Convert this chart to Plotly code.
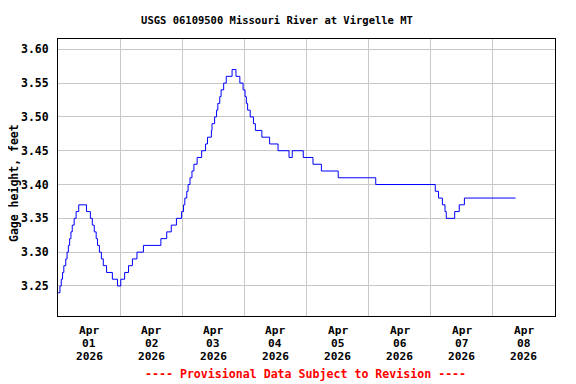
import plotly.graph_objects as go

# Change points of the gage-height record (step data, 0.01 ft resolution)
times = [
    "2026-04-01 00:00", "2026-04-01 00:45", "2026-04-01 01:15", "2026-04-01 01:45",
    "2026-04-01 02:15", "2026-04-01 03:00", "2026-04-01 03:30", "2026-04-01 04:00",
    "2026-04-01 04:30", "2026-04-01 05:00", "2026-04-01 05:30", "2026-04-01 06:15",
    "2026-04-01 07:00", "2026-04-01 08:00", "2026-04-01 11:00", "2026-04-01 12:30",
    "2026-04-01 13:15", "2026-04-01 14:00", "2026-04-01 14:45", "2026-04-01 15:15",
    "2026-04-01 16:00", "2026-04-01 16:45", "2026-04-01 17:30", "2026-04-01 18:45",
    "2026-04-01 21:00", "2026-04-01 23:00",
    "2026-04-02 00:15", "2026-04-02 01:45", "2026-04-02 03:15", "2026-04-02 04:45",
    "2026-04-02 06:30", "2026-04-02 09:00", "2026-04-02 15:45", "2026-04-02 18:00",
    "2026-04-02 19:45", "2026-04-02 21:45", "2026-04-02 23:45",
    "2026-04-03 00:30", "2026-04-03 01:00", "2026-04-03 01:45", "2026-04-03 02:15",
    "2026-04-03 03:00", "2026-04-03 03:45", "2026-04-03 04:30", "2026-04-03 05:45",
    "2026-04-03 07:30", "2026-04-03 09:00", "2026-04-03 09:45", "2026-04-03 11:15",
    "2026-04-03 11:30", "2026-04-03 12:30", "2026-04-03 13:15", "2026-04-03 13:45",
    "2026-04-03 14:30", "2026-04-03 15:00", "2026-04-03 16:00", "2026-04-03 17:00",
    "2026-04-03 19:15", "2026-04-03 20:45", "2026-04-03 22:15", "2026-04-03 23:30",
    "2026-04-04 00:15", "2026-04-04 00:45", "2026-04-04 01:15", "2026-04-04 02:15",
    "2026-04-04 03:30", "2026-04-04 04:15", "2026-04-04 06:45", "2026-04-04 09:45",
    "2026-04-04 13:00", "2026-04-04 17:15", "2026-04-04 18:30", "2026-04-04 22:45",
    "2026-04-05 02:30", "2026-04-05 05:45", "2026-04-05 12:15",
    "2026-04-06 02:45",
    "2026-04-07 01:45", "2026-04-07 03:00", "2026-04-07 04:30", "2026-04-07 05:30",
    "2026-04-07 06:00", "2026-04-07 09:15", "2026-04-07 11:00", "2026-04-07 13:00",
    "2026-04-08 08:45",
]
gage_height = [
    3.24, 3.25, 3.26, 3.27,
    3.28, 3.29, 3.30, 3.31,
    3.32, 3.33, 3.34, 3.35,
    3.36, 3.37, 3.36, 3.35,
    3.34, 3.33, 3.32, 3.31,
    3.30, 3.29, 3.28, 3.27,
    3.26, 3.25,
    3.26, 3.27, 3.28, 3.29,
    3.30, 3.31, 3.32, 3.33,
    3.34, 3.35, 3.36,
    3.37, 3.38, 3.39, 3.40,
    3.41, 3.42, 3.43, 3.44,
    3.45, 3.46, 3.47, 3.48,
    3.49, 3.50, 3.51, 3.52,
    3.53, 3.54, 3.55, 3.56,
    3.57, 3.56, 3.55, 3.54,
    3.53, 3.52, 3.51, 3.50,
    3.49, 3.48, 3.47, 3.46,
    3.45, 3.44, 3.45, 3.44,
    3.43, 3.42, 3.41,
    3.40,
    3.39, 3.38, 3.37, 3.36,
    3.35, 3.36, 3.37, 3.38,
    3.38,
]

day_label_pos = ["2026-04-01 12:00", "2026-04-02 12:00", "2026-04-03 12:00", "2026-04-04 12:00",
                 "2026-04-05 12:00", "2026-04-06 12:00", "2026-04-07 12:00", "2026-04-08 12:00"]
label_month = ["Apr"] * 8
label_day = ["01", "02", "03", "04", "05", "06", "07", "08"]
label_year = ["2026"] * 8
y_ticks = [3.25, 3.30, 3.35, 3.40, 3.45, 3.50, 3.55, 3.60]

FONT = "DejaVu Sans Mono"
W, H = 568, 376          # page body has an 8px margin in the browser
PLOT_L, PLOT_T, PLOT_W, PLOT_H = 50, 31, 497, 277

fig = go.Figure()
fig.add_trace(go.Scatter(
    x=times, y=gage_height, mode="lines", line_shape="hv",
    line=dict(color="#0000ff", width=1), showlegend=False,
))

fig.update_layout(
    width=W, height=H,
    margin=dict(l=PLOT_L, r=W - PLOT_L - PLOT_W, t=PLOT_T, b=H - PLOT_T - PLOT_H),
    paper_bgcolor="white", plot_bgcolor="white",
    font=dict(family=FONT, color="black", size=11.5),
    title=dict(text="<b>USGS 06109500 Missouri River at Virgelle MT</b>",
               x=269 / W, xanchor="center", xref="container",
               y=1 - 12 / H, yanchor="middle",
               font=dict(family=FONT, size=10.5, color="black")),
)

fig.update_xaxes(
    range=["2026-04-01 00:00", "2026-04-09 00:00"],
    tickmode="array", tickvals=day_label_pos, showticklabels=False,
    showgrid=False, ticks="",
    minor=dict(tickmode="linear", tick0="2026-04-01 00:00", dtick=86400000,
               showgrid=True, gridcolor="#c8c8c8", gridwidth=1, ticks=""),
    showline=True, linecolor="black", linewidth=1, mirror=True,
    zeroline=False,
)
fig.update_yaxes(
    range=[3.2056, 3.6152],
    tickmode="array", tickvals=y_ticks, ticktext=["<b>%.2f</b>" % v for v in y_ticks],
    showgrid=True, gridcolor="#c8c8c8", gridwidth=1, ticks="", ticklabelstandoff=6,
    tickfont=dict(family=FONT, size=11.5, color="black"),
    showline=True, linecolor="black", linewidth=1, mirror=True,
    zeroline=False,
)

# Date tick labels (three lines each), placed on the date axis
for rows, ypix in ((label_month, 330), (label_day, 343.5), (label_year, 357)):
    for xpos, txt in zip(day_label_pos, rows):
        fig.add_annotation(text="<b>%s</b>" % txt, xref="x", yref="paper",
                           x=xpos, y=-(ypix - 316) / PLOT_H,
                           xanchor="center", yanchor="middle", showarrow=False,
                           font=dict(family=FONT, size=11.2, color="black"))

fig.add_annotation(text="<b>Gage height, feet</b>", textangle=-90,
                   xref="paper", yref="paper", x=(14 - 58) / PLOT_W, y=(316 - 183) / PLOT_H,
                   xanchor="center", yanchor="middle", showarrow=False, borderpad=0,
                   font=dict(family=FONT, size=11.5, color="black"))
fig.add_annotation(text="<b>---- Provisional Data Subject to Revision ----</b>",
                   xref="paper", yref="paper", x=(305.5 - 58) / PLOT_W, y=-(374 - 316) / PLOT_H,
                   xanchor="center", yanchor="middle", showarrow=False,
                   font=dict(family=FONT, size=11.6, color="#ff0000"))

fig.write_html("out.html")
